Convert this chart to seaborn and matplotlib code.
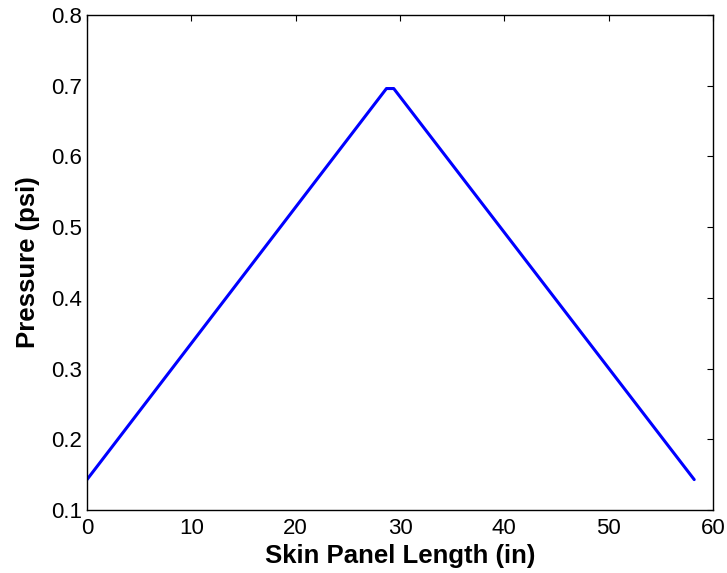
import pandas as pd
import matplotlib
matplotlib.use("Agg")
import matplotlib.pyplot as plt
import seaborn as sns

# skin panel pressure profile
length_in = [0, 28.7, 29.4, 58.2]
pressure_psi = [0.143, 0.696, 0.696, 0.143]

df = pd.DataFrame({"Length": length_in, "Pressure": pressure_psi})

sns.set_style("white")
plt.rcParams["font.family"] = ["Liberation Sans", "DejaVu Sans"]
plt.rcParams["text.color"] = "black"
plt.rcParams["axes.labelcolor"] = "black"

fig = plt.figure(figsize=(7.27, 5.73), dpi=100)
ax = fig.add_axes([87 / 727, 63 / 573, 626 / 727, 495 / 573])

sns.lineplot(data=df, x="Length", y="Pressure", color="#0000ff", linewidth=2.2, ax=ax)

ax.set_xlim(0, 60)
ax.set_ylim(0.1, 0.8)
ax.set_xticks(range(0, 61, 10))
ax.set_yticks([0.1, 0.2, 0.3, 0.4, 0.5, 0.6, 0.7, 0.8])
ax.tick_params(direction="in", length=4, width=0.8, top=True, right=True,
               labelsize=16, colors="black")
ax.tick_params(axis="x", pad=6)
ax.tick_params(axis="y", pad=3.5)
for s in ax.spines.values():
    s.set_visible(True)
    s.set_color("black")
    s.set_linewidth(1.0)

ax.set_xlabel("Skin Panel Length (in)", fontsize=18.5, fontweight="bold", labelpad=3)
ax.set_ylabel("Pressure (psi)", fontsize=18.5, fontweight="bold", labelpad=8)

fig.savefig("out.png", dpi=100)
